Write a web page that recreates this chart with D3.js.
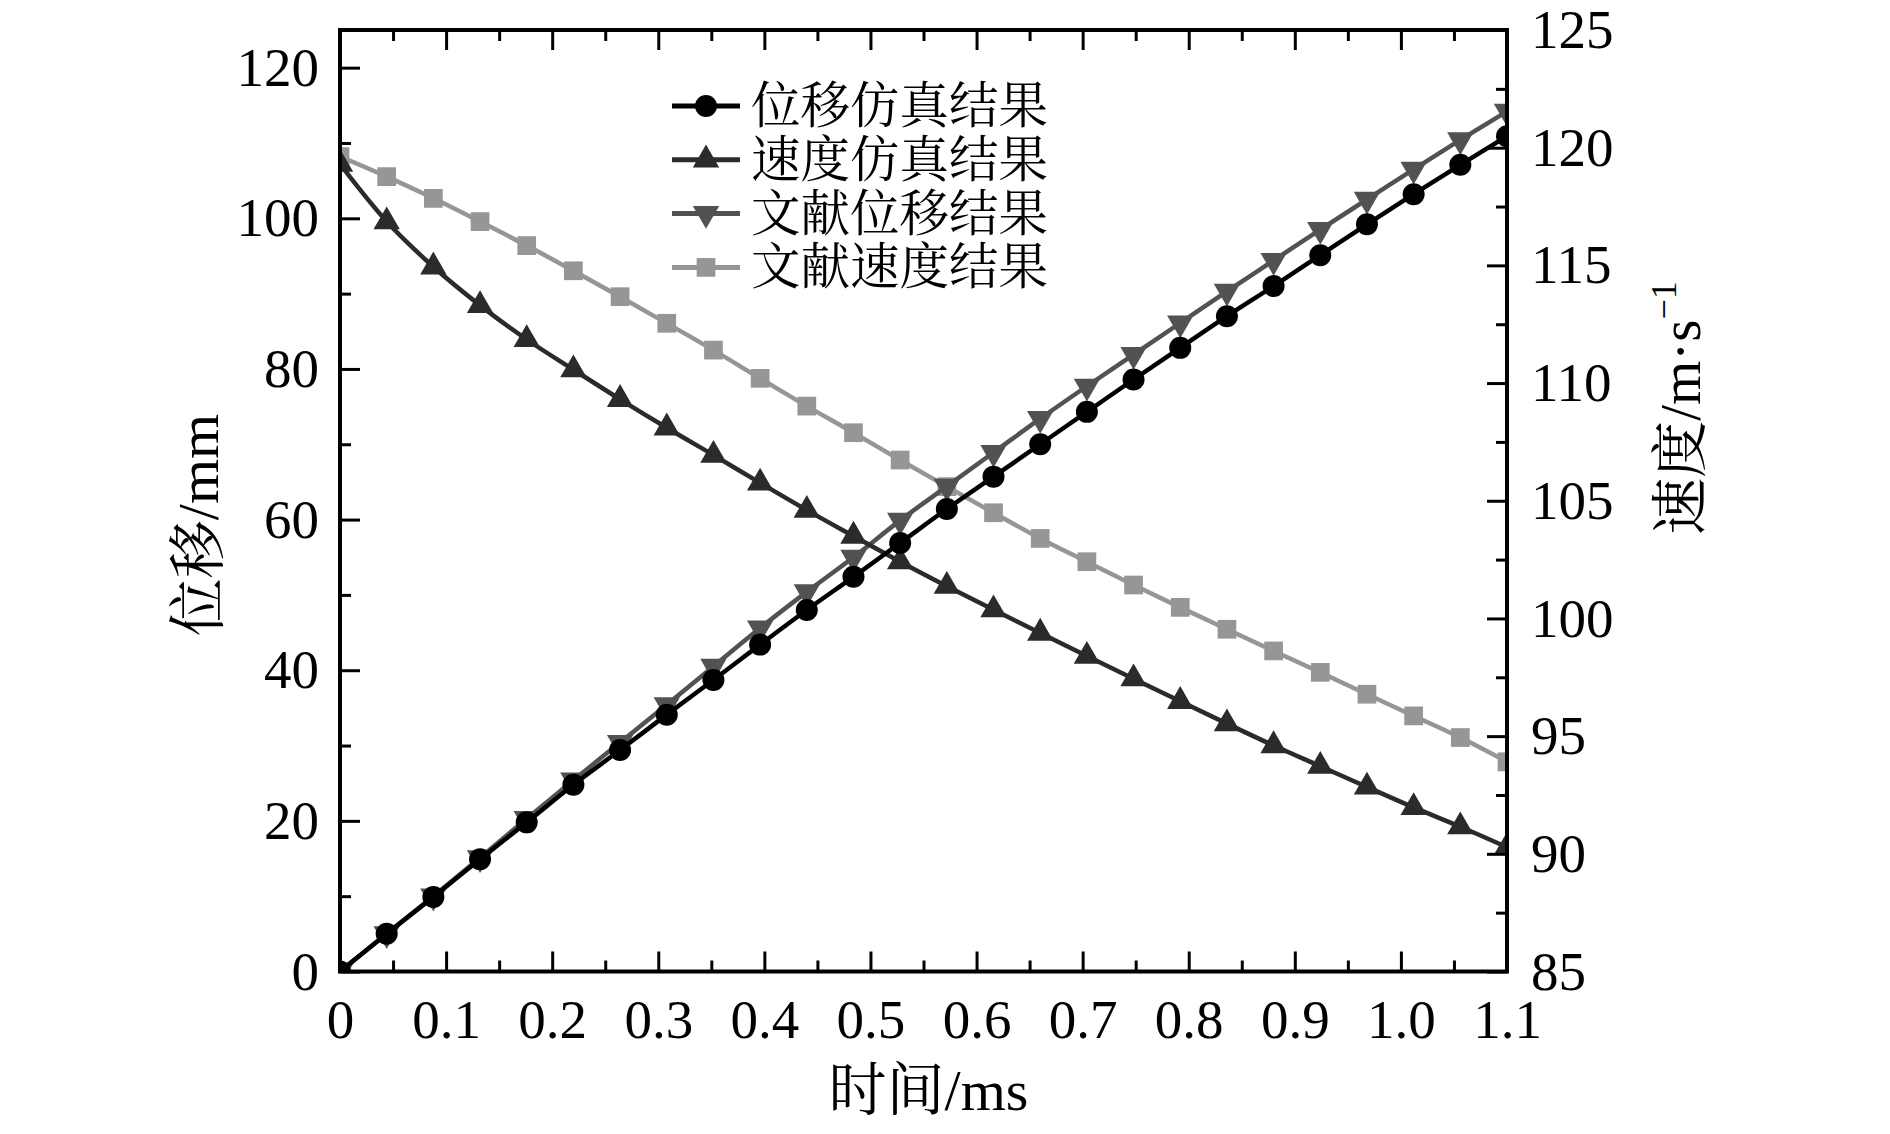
<!DOCTYPE html>
<html lang="zh">
<head>
    <meta charset="UTF-8">
    <title>位移与速度仿真结果</title>
    <script src="https://cdnjs.cloudflare.com/ajax/libs/d3/7.8.5/d3.min.js"></script>
    <style>
        body {
            margin: 0;
            background-color: white;
        }

        svg text {
            font-family: "Liberation Serif", "Times New Roman", "Noto Serif CJK SC", "Noto Sans CJK SC", serif;
            fill: black;
        }
    </style>
</head>
<body>
<div id="chart"></div>
<script type="text/javascript">
    // time in ms, one marker every 0.044 ms
    const times = [0, 0.044, 0.088, 0.132, 0.176, 0.22, 0.264, 0.308, 0.352, 0.396, 0.44, 0.484, 0.528,
        0.572, 0.616, 0.66, 0.704, 0.748, 0.792, 0.836, 0.88, 0.924, 0.968, 1.012, 1.056, 1.1];

    // left axis, mm
    const dispSim = [0, 5.0, 9.9, 14.9, 19.8, 24.8, 29.4, 34.1, 38.7, 43.4, 48.0, 52.4, 56.9,
        61.4, 65.7, 70.0, 74.3, 78.6, 82.8, 87.0, 91.0, 95.1, 99.2, 103.2, 107.1, 110.9];
    const dispRef = [0, 5.0, 10.0, 15.1, 20.3, 25.4, 30.4, 35.4, 40.5, 45.6, 50.4, 55.0, 59.9,
        64.4, 68.9, 73.4, 77.7, 81.9, 86.1, 90.3, 94.4, 98.5, 102.5, 106.5, 110.4, 114.2];

    // right axis, m/s
    const velSim = [119.3, 116.86, 114.94, 113.3, 111.85, 110.57, 109.31, 108.1, 106.94, 105.76, 104.6, 103.5, 102.41,
        101.37, 100.37, 99.38, 98.4, 97.44, 96.48, 95.53, 94.6, 93.72, 92.84, 91.97, 91.15, 90.28];
    const velRef = [119.62, 118.77, 117.85, 116.86, 115.84, 114.77, 113.67, 112.54, 111.4, 110.2, 109.02, 107.89, 106.73,
        105.6, 104.49, 103.4, 102.41, 101.42, 100.47, 99.54, 98.62, 97.71, 96.78, 95.86, 94.94, 93.91];

    const xTicks = [0, 0.1, 0.2, 0.3, 0.4, 0.5, 0.6, 0.7, 0.8, 0.9, 1.0, 1.1];
    const leftTicks = [0, 20, 40, 60, 80, 100, 120];
    const rightTicks = [85, 90, 95, 100, 105, 110, 115, 120, 125];
    const legendLabels = ['位移仿真结果', '速度仿真结果', '文献位移结果', '文献速度结果'];

    function onLoad() {
        const width = 1890;
        const height = 1134;
        const left = 340, right = 1507, top = 30, bottom = 971.5;

        const svg = d3.select('#chart')
            .append('svg')
            .attr('width', width)
            .attr('height', height);

        const x = d3.scaleLinear().domain([0, 1.1]).range([left, right]);
        const yL = d3.scaleLinear().domain([0, 125]).range([bottom, top]);
        const yR = d3.scaleLinear().domain([85, 125]).range([bottom, top]);

        const minorX = d3.range(0.05, 1.1, 0.1);
        const minorL = d3.range(10, 125, 20);
        const minorR = d3.range(87.5, 125, 5);

        svg.append('clipPath').attr('id', 'plot-clip')
            .append('rect')
            .attr('x', left).attr('y', top)
            .attr('width', right - left).attr('height', bottom - top);

        const series = [
            {values: dispSim, y: yL, color: '#000000', symbol: 'circle', width: 4.5},
            {values: velSim, y: yR, color: '#2b2b2b', symbol: 'up', width: 4.5},
            {values: dispRef, y: yL, color: '#525252', symbol: 'down', width: 4.5},
            {values: velRef, y: yR, color: '#969696', symbol: 'square', width: 4.5}
        ];

        const drawSymbol = (g, kind, color) => {
            if (kind === 'circle') {
                g.append('circle').attr('r', 11).attr('fill', color);
            } else if (kind === 'square') {
                g.append('path').attr('d', d3.symbol(d3.symbolSquare, 350)()).attr('fill', color);
            } else {
                g.append('path')
                    .attr('d', d3.symbol(d3.symbolTriangle, 300)())
                    .attr('transform', kind === 'down' ? 'rotate(180)' : null)
                    .attr('fill', color);
            }
        };

        const plot = svg.append('g').attr('clip-path', 'url(#plot-clip)');

        // draw back to front: squares first, circles last
        series.slice().reverse().forEach(s => {
            const line = d3.line()
                .x((d, i) => x(times[i]))
                .y(d => s.y(d))
                .curve(d3.curveMonotoneX);
            plot.append('path')
                .datum(s.values)
                .attr('d', line)
                .attr('fill', 'none')
                .attr('stroke', s.color)
                .attr('stroke-width', s.width);
            plot.selectAll(null)
                .data(s.values)
                .enter()
                .append('g')
                .attr('transform', (d, i) => `translate(${x(times[i])},${s.y(d)})`)
                .each(function () {
                    drawSymbol(d3.select(this), s.symbol, s.color);
                });
        });

        // axes, ticks pointing inwards
        const styleAxis = g => {
            g.select('.domain').remove();
            g.selectAll('.tick line').attr('stroke', 'black').attr('stroke-width', 3);
            g.selectAll('.tick text').style('font-size', '55px');
        };

        svg.append('g').attr('transform', `translate(0,${bottom})`)
            .call(d3.axisBottom(x).tickValues(xTicks).tickSize(-20).tickPadding(27)
                .tickFormat(d => d === 0 ? '0' : d3.format('.1f')(d)))
            .call(styleAxis);
        svg.append('g').attr('transform', `translate(0,${bottom})`)
            .call(d3.axisBottom(x).tickValues(minorX).tickSize(-11).tickFormat(''))
            .call(styleAxis);
        svg.append('g').attr('transform', `translate(0,${top})`)
            .call(d3.axisTop(x).tickValues(xTicks).tickSize(-20).tickFormat(''))
            .call(styleAxis);
        svg.append('g').attr('transform', `translate(0,${top})`)
            .call(d3.axisTop(x).tickValues(minorX).tickSize(-11).tickFormat(''))
            .call(styleAxis);

        svg.append('g').attr('transform', `translate(${left},0)`)
            .call(d3.axisLeft(yL).tickValues(leftTicks).tickSize(-20).tickPadding(21))
            .call(styleAxis);
        svg.append('g').attr('transform', `translate(${left},0)`)
            .call(d3.axisLeft(yL).tickValues(minorL).tickSize(-11).tickFormat(''))
            .call(styleAxis);

        svg.append('g').attr('transform', `translate(${right},0)`)
            .call(d3.axisRight(yR).tickValues(rightTicks).tickSize(-20).tickPadding(24))
            .call(styleAxis);
        svg.append('g').attr('transform', `translate(${right},0)`)
            .call(d3.axisRight(yR).tickValues(minorR).tickSize(-11).tickFormat(''))
            .call(styleAxis);

        svg.append('rect')
            .attr('x', left).attr('y', top)
            .attr('width', right - left).attr('height', bottom - top)
            .attr('fill', 'none')
            .attr('stroke', 'black')
            .attr('stroke-width', 4);

        // axis titles
        svg.append('text')
            .attr('x', (left + right) / 2 + 5)
            .attr('y', 1110)
            .attr('text-anchor', 'middle')
            .style('font-size', '58px')
            .text('时间/ms');

        svg.append('text')
            .attr('transform', 'translate(218,525) rotate(-90)')
            .attr('text-anchor', 'middle')
            .style('font-size', '58px')
            .text('位移/mm');

        const rt = svg.append('text')
            .attr('transform', 'translate(1700,408) rotate(-90)')
            .attr('text-anchor', 'middle')
            .style('font-size', '57px');
        rt.append('tspan').text('速度/m·s');
        rt.append('tspan').attr('dy', -24).style('font-size', '36px').text('−1');

        // legend
        const legend = svg.append('g').attr('id', 'legend');
        legendLabels.forEach((label, i) => {
            const s = series[i];
            const ly = 106 + i * 53.8;
            legend.append('line')
                .attr('x1', 672).attr('x2', 740)
                .attr('y1', ly).attr('y2', ly)
                .attr('stroke', s.color)
                .attr('stroke-width', 5);
            const g = legend.append('g').attr('transform', `translate(706,${ly})`);
            drawSymbol(g, s.symbol, s.color);
            legend.append('text')
                .attr('x', 751)
                .attr('y', ly + 17)
                .style('font-size', '49.5px')
                .text(label);
        });
    }

    document.addEventListener('DOMContentLoaded', onLoad);
</script>
</body>
</html>
